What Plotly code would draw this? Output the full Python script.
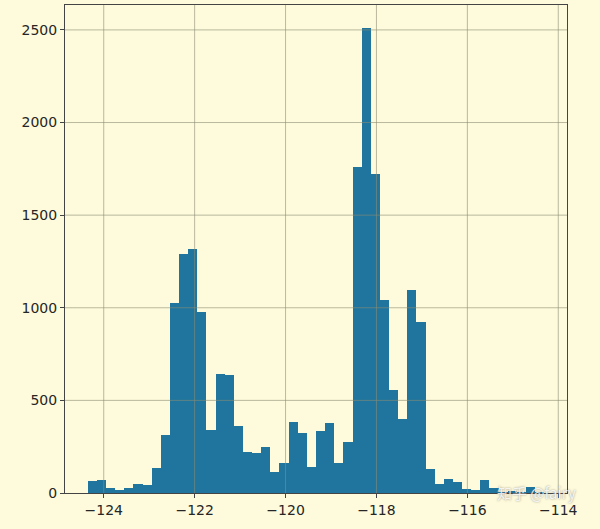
import numpy as np
import plotly.graph_objects as go

# longitude histogram (50 bins)
lon_min = -124.35
lon_max = -114.31
counts = [65, 72, 29, 16, 29, 50, 43, 133, 314, 1024,
          1291, 1315, 975, 339, 643, 637, 363, 223, 217, 249,
          113, 162, 383, 322, 138, 334, 376, 162, 278, 1758,
          2509, 1724, 1040, 555, 402, 1094, 923, 128, 48, 77,
          58, 22, 16, 72, 29, 3, 8, 4, 32, 5]
x_ticks = [-124, -122, -120, -118, -116, -114]
x_tick_labels = ["\u2212124", "\u2212122", "\u2212120", "\u2212118", "\u2212116", "\u2212114"]
y_ticks = [0, 500, 1000, 1500, 2000, 2500]
watermark = "知乎 @fairy"

nb = len(counts)
edges = np.linspace(lon_min, lon_max, nb + 1)
width = edges[1] - edges[0]
centers = (edges[:-1] + edges[1:]) / 2

bg = "#fefbdc"
grid_col = "rgba(140,140,115,0.6)"

fig = go.Figure(go.Bar(x=centers, y=counts, width=width,
                       marker=dict(color="#1f759e", line=dict(width=0))))

span = lon_max - lon_min
xr = [lon_min - 0.05 * span, lon_max + 0.05 * span]
yr = [0, max(counts) * 1.05]

shapes = []
for v in x_ticks:
    shapes.append(dict(type="line", xref="x", yref="paper", x0=v, x1=v, y0=0, y1=1,
                       line=dict(color=grid_col, width=1), layer="above"))
for v in y_ticks[1:]:
    shapes.append(dict(type="line", xref="paper", yref="y", x0=0, x1=1, y0=v, y1=v,
                       line=dict(color=grid_col, width=1), layer="above"))

fig.update_layout(
    width=600, height=529,
    margin=dict(l=65, r=33, t=5, b=36),
    paper_bgcolor=bg, plot_bgcolor=bg,
    bargap=0, showlegend=False,
    font=dict(family="DejaVu Sans", size=14, color="#262626"),
    shapes=shapes,
    annotations=[dict(text=watermark, xref="paper", yref="paper", x=0.939, y=0.002,
                      xanchor="center", yanchor="middle", showarrow=False,
                      font=dict(family="Noto Sans CJK SC", size=15,
                                color="rgba(255,255,255,0.85)",
                                shadow="0px 0px 2px rgba(90,90,90,0.8)"))],
)
fig.update_xaxes(range=xr, tickvals=x_ticks, ticktext=x_tick_labels,
                 showgrid=False, zeroline=False,
                 showline=True, mirror=True, linecolor="#444", linewidth=1,
                 ticks="outside", ticklen=4, tickcolor="#444")
fig.update_yaxes(range=yr, tickvals=y_ticks,
                 showgrid=False, zeroline=False,
                 showline=True, mirror=True, linecolor="#444", linewidth=1,
                 ticks="outside", ticklen=4, tickcolor="#444")

fig.write_html("out.html", config={"displayModeBar": False},
               post_script="document.body.style.margin='0';document.body.style.background='%s';" % bg)
